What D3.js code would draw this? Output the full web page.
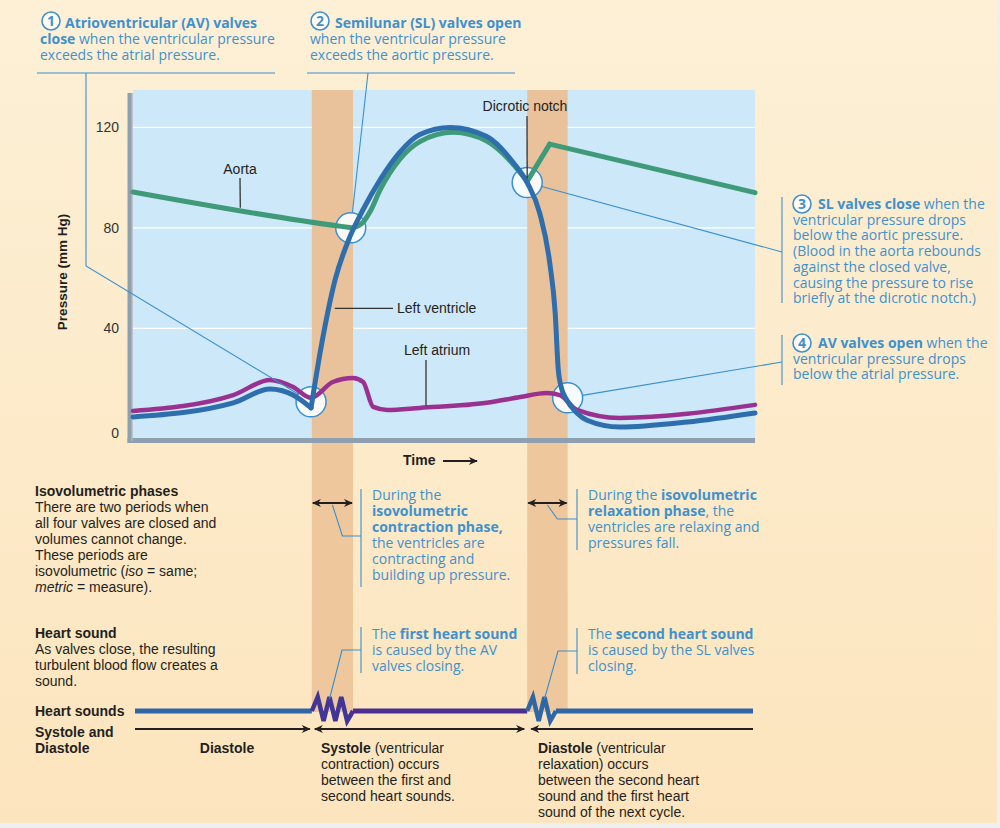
<!DOCTYPE html>
<html><head><meta charset="utf-8">
<script src="https://cdn.jsdelivr.net/npm/d3@7"></script>
<style>
html,body{margin:0;padding:0;background:#eef0f0;}
svg{display:block;}
</style></head><body>
<svg id="c" width="1000" height="828"></svg>
<script>
// ---------------- DATA ----------------
const yTicks = [0, 40, 80, 120];
const gridTicks = [40, 80, 120];
const timeDomain = [0, 800];          // ms of one cardiac cycle (approx.)
const pressureDomain = [0, 120];      // mm Hg

// Left ventricle pressure
const lvTime     = [0, 129, 176, 206, 229, 242, 260, 279, 296, 318, 343, 369, 408, 455, 489, 507, 523, 536, 543, 547, 550, 558, 571, 584, 626, 713, 800];
const lvPressure = [4.8, 10.4, 15.9, 13.5, 8.4, 32.7, 59.4, 76.5, 87.3, 99.2, 110, 117.1, 119.9, 116.3, 106, 98, 86, 66.1, 46.2, 23.5, 17.5, 11.5, 6.4, 3.5, 0.8, 2.8, 6.4];
const lvCorners  = [229];

// Aorta pressure
const aortaTime     = [0, 268, 283, 296, 305, 318, 343, 369, 412, 455, 476, 498, 507, 536, 800];
const aortaPressure = [94.3, 80.6, 80, 82.3, 86.5, 95.2, 107.2, 114.3, 118, 114.5, 109.5, 102, 98.5, 113.3, 94];
const aortaCorners  = [283, 507, 536];

// Left atrium pressure
const laTime     = [0, 129, 176, 206, 229, 257, 283, 296, 309, 327, 369, 455, 498, 532, 549, 571, 626, 800];
const laPressure = [7.2, 13.5, 19.5, 16.7, 12.4, 18.7, 20.3, 18.7, 8.8, 7.6, 8.4, 10.4, 12.7, 14.3, 13.5, 7.6, 4.4, 9.6];

// Isovolumetric phases (ms)
const phaseStart = [230, 507];
const phaseEnd   = [283, 559];

// Valve events (time, pressure)
const valveTime     = [229, 280, 507, 559];
const valvePressure = [10.8, 80, 98, 12.4];

// Heart sounds
const soundStart = [230, 507];
const soundEnd   = [283, 544];
const soundPeaks = [3, 2];

// ---------------- SETUP ----------------
const svg = d3.select("#c");
const x = d3.scaleLinear().domain(timeDomain).range([133, 755]);
const y = d3.scaleLinear().domain(pressureDomain).range([429, 127.3]);
const BLUE = "#3f91cc", INK = "#231f20";
const SANS = "'Liberation Sans', Arial, sans-serif";
const HUM = "'Open Sans', 'Noto Sans', sans-serif";

const defs = svg.append("defs");
const bg = defs.append("linearGradient").attr("id","bg").attr("x1",0).attr("y1",0).attr("x2",0).attr("y2",1);
bg.append("stop").attr("offset","0%").attr("stop-color","#fdf0d6");
bg.append("stop").attr("offset","100%").attr("stop-color","#fce5be");
defs.append("marker").attr("id","ah").attr("viewBox","0 0 10 10").attr("refX",9).attr("refY",5)
  .attr("markerWidth",11).attr("markerHeight",9).attr("markerUnits","userSpaceOnUse").attr("orient","auto-start-reverse")
  .append("path").attr("d","M0,0.5 L10,5 L0,9.5 L3,5 Z").attr("fill",INK);

svg.append("rect").attr("width",997).attr("height",823).attr("fill","url(#bg)");

// plot background
svg.append("rect").attr("x",x(0)).attr("y",90).attr("width",x(800)-x(0)).attr("height",350).attr("fill","#cde8f8");
svg.selectAll(".grid").data(gridTicks).join("line")
  .attr("x1",x(0)).attr("x2",x(800)).attr("y1",d=>y(d)).attr("y2",d=>y(d))
  .attr("stroke","#fff").attr("stroke-width",1.2);

// bands
phaseStart.forEach((s,i)=>{
  svg.append("rect").attr("x",x(s)).attr("y",90).attr("width",x(phaseEnd[i])-x(s)).attr("height",350).attr("fill","#e9c29b");
  svg.append("rect").attr("x",x(s)).attr("y",440).attr("width",x(phaseEnd[i])-x(s)).attr("height",272).attr("fill","#eec79d");
});

// axes
svg.append("line").attr("x1",130).attr("x2",130).attr("y1",93).attr("y2",443).attr("stroke","#8e9faf").attr("stroke-width",5);
svg.append("line").attr("x1",127.5).attr("x2",x(800)).attr("y1",440.5).attr("y2",440.5).attr("stroke","#8e9faf").attr("stroke-width",5);
svg.append("line").attr("x1",132).attr("x2",132).attr("y1",93).attr("y2",441).attr("stroke","#b5c3cf").attr("stroke-width",1);
svg.selectAll(".yt").data(yTicks).join("text")
  .attr("x",119).attr("y",d=>y(d)+ (d===0?9:5)).attr("text-anchor","end")
  .attr("font-family",SANS).attr("font-size",14).attr("fill","#333").text(d=>d);
svg.append("text").attr("transform","translate(67,272) rotate(-90)").attr("text-anchor","middle")
  .attr("font-family",SANS).attr("font-size",13.5).attr("font-weight","bold").attr("fill",INK).text("Pressure (mm Hg)");
svg.append("text").attr("x",403).attr("y",465).attr("font-family",SANS).attr("font-size",14).attr("font-weight","bold").attr("fill",INK).text("Time");
svg.append("line").attr("x1",443).attr("x2",477).attr("y1",461).attr("y2",461).attr("stroke",INK).attr("stroke-width",2.2).attr("marker-end","url(#ah)");

// helpers
function interp(ts, ps, t){
  for(let i=1;i<ts.length;i++){ if(t<=ts[i]){ const f=(t-ts[i-1])/(ts[i]-ts[i-1]); return ps[i-1]+f*(ps[i]-ps[i-1]); } }
  return ps[ps.length-1];
}
function pieces(ts, ps, corners){
  const out=[]; let cur=[];
  ts.forEach((t,i)=>{ cur.push([t,ps[i]]); if(corners.includes(t) && cur.length>1){ out.push(cur); cur=[[t,ps[i]]]; } });
  if(cur.length>1) out.push(cur);
  return out;
}
const line = d3.line().x(d=>x(d[0])).y(d=>y(d[1])).curve(d3.curveMonotoneX);

// valve circles (under the curves)
const R = 15;
valveTime.forEach((t,i)=>{
  svg.append("circle").attr("cx",x(t)).attr("cy",y(valvePressure[i])).attr("r",R)
    .attr("fill","#fbfeff").attr("fill-opacity",0.92).attr("stroke","#3a8fcf").attr("stroke-width",1.5);
});

// curves
function drawCurve(ts, ps, corners, color, w){
  pieces(ts, ps, corners).forEach(p=>{
    svg.append("path").attr("d",line(p)).attr("fill","none").attr("stroke",color).attr("stroke-width",w)
      .attr("stroke-linejoin","round").attr("stroke-linecap","round");
  });
}
drawCurve(aortaTime, aortaPressure, aortaCorners, "#3e9a78", 5);
drawCurve(laTime, laPressure, [], "#9a3190", 4.5);
drawCurve(lvTime, lvPressure, lvCorners, "#2f6ead", 5);

// curve labels
function label(txt, tx, ty, anchor){
  svg.append("text").attr("x",tx).attr("y",ty).attr("text-anchor",anchor||"start")
    .attr("font-family",SANS).attr("font-size",14).attr("fill",INK).text(txt);
}
const lead = (x1,y1,x2,y2)=>svg.append("line").attr("x1",x1).attr("y1",y1).attr("x2",x2).attr("y2",y2).attr("stroke","#333").attr("stroke-width",1.3);
label("Aorta",240,174,"middle"); lead(240,178,x(138),y(interp(aortaTime,aortaPressure,138))-2);
label("Left ventricle",397,313); lead(x(257)+2,y(48),393,y(48));
label("Left atrium",404,355); lead(426,360,426,y(interp(laTime,laPressure,377))-2);
label("Dicrotic notch",525,111,"middle"); lead(527,116,x(507),y(98.5)-3);

// callout lines
const thin = (pts)=>svg.append("path").attr("d",d3.line()(pts)).attr("fill","none").attr("stroke","#3a8fcf").attr("stroke-width",1.1);
function edge(from, ci){
  const cx=x(valveTime[ci]), cy=y(valvePressure[ci]);
  const dx=from[0]-cx, dy=from[1]-cy, L=Math.hypot(dx,dy);
  return [cx+dx/L*R, cy+dy/L*R];
}
thin([[37,73],[275,73]]); thin([[307,73],[515,73]]);
thin([[86,73],[86,266],edge([86,266],0)]);
thin([[368,73],edge([368,73],1)]);
thin([edge([782,252],2),[782,252]]);
thin([edge([782,362],3),[782,362]]);
thin([[782,197],[782,303]]); thin([[782,335],[782,385]]);

// text blocks: first line may be indented (to leave room for a number badge)
function block(x0, y0, lh, lines, color, font, size, indent){
  const t = svg.append("text").attr("font-family",font).attr("font-size",size).attr("fill",color);
  lines.forEach((ln,i)=>{
    const segs = typeof ln==="string" ? [[ln,""]] : ln;
    segs.forEach((s,j)=>{
      const ts = t.append("tspan").text(s[0]);
      if(j===0) ts.attr("x",x0 + (i===0 && indent ? indent : 0)).attr("y",y0+i*lh);
      if(s[1].includes("b")) ts.attr("font-weight","bold");
      if(s[1].includes("i")) ts.attr("font-style","italic");
    });
  });
}
function num(cx, cy, n){
  svg.append("circle").attr("cx",cx).attr("cy",cy).attr("r",9).attr("fill","#fffbf2").attr("stroke",BLUE).attr("stroke-width",1.6);
  svg.append("text").attr("x",cx).attr("y",cy+5).attr("text-anchor","middle").attr("font-family",HUM).attr("font-size",14)
    .attr("font-weight","bold").attr("fill",BLUE).text(n);
}
num(51,21,"1");
block(40,28,16,[[["Atrioventricular (AV) valves","b"]],[["close","b"],[" when the ventricular pressure",""]],"exceeds the atrial pressure."],BLUE,HUM,14,25);
num(320,21,"2");
block(310,28,16,[[["Semilunar (SL) valves open","b"]],"when the ventricular pressure","exceeds the aortic pressure."],BLUE,HUM,14,25);
num(802,204,"3");
block(793,209,15.7,[[["SL valves close","b"],[" when the",""]],"ventricular pressure drops","below the aortic pressure.","(Blood in the aorta rebounds","against the closed valve,","causing the pressure to rise","briefly at the dicrotic notch.)"],BLUE,HUM,14,25);
num(802,343,"4");
block(793,348,15.5,[[["AV valves open","b"],[" when the",""]],"ventricular pressure drops","below the atrial pressure."],BLUE,HUM,14,25);

// lower left descriptions
block(35,496,16,[[["Isovolumetric phases","b"]],"There are two periods when","all four valves are closed and","volumes cannot change.","These periods are",[["isovolumetric (",""],["iso","i"],[" = same;",""]],[["metric","i"],[" = measure).",""]]],INK,SANS,14);
block(35,638,16,[[["Heart sound","b"]],"As valves close, the resulting","turbulent blood flow creates a","sound."],INK,SANS,14);
block(35,716,16,[[["Heart sounds","b"]]],INK,SANS,14);
block(35,737,16,[[["Systole and","b"]],[["Diastole","b"]]],INK,SANS,14);
svg.append("text").attr("x",227).attr("y",753).attr("text-anchor","middle").attr("font-family",SANS).attr("font-size",14).attr("font-weight","bold").attr("fill",INK).text("Diastole");
block(321,753,16,[[["Systole","b"],[" (ventricular",""]],"contraction) occurs","between the first and","second heart sounds."],INK,SANS,14);
block(538,753,16,[[["Diastole","b"],[" (ventricular",""]],"relaxation) occurs","between the second heart","sound and the first heart","sound of the next cycle."],INK,SANS,14);

// phase descriptions
block(372,500,16,["During the",[["isovolumetric","b"]],[["contraction phase,","b"]],"the ventricles are","contracting and","building up pressure."],BLUE,HUM,14);
block(588,500,16,[[["During the ",""],["isovolumetric","b"]],[["relaxation phase",'b'],[", the",""]],"ventricles are relaxing and","pressures fall."],BLUE,HUM,14);
block(372,639,16,[[["The ",""],["first heart sound","b"]],"is caused by the AV","valves closing."],BLUE,HUM,14);
block(588,639,16,[[["The ",""],["second heart sound","b"]],"is caused by the SL valves","closing."],BLUE,HUM,14);

// phase double arrows + connectors
phaseStart.forEach((s,i)=>{
  svg.append("line").attr("x1",x(s)+1).attr("x2",x(phaseEnd[i])-1).attr("y1",503).attr("y2",503)
    .attr("stroke",INK).attr("stroke-width",2).attr("marker-start","url(#ah)").attr("marker-end","url(#ah)");
});
const cx0 = (x(phaseStart[0])+x(phaseEnd[0]))/2, cx1=(x(phaseStart[1])+x(phaseEnd[1]))/2;
thin([[cx0,505],[cx0+10,536],[361,536]]); thin([[361,489],[361,587]]);
thin([[cx1,505],[cx1+10,519],[577,519]]); thin([[577,489],[577,550]]);

// heart sound line
const HS_Y = 711;
svg.append("line").attr("x1",135).attr("x2",x(soundStart[0])).attr("y1",HS_Y).attr("y2",HS_Y).attr("stroke","#2f66a6").attr("stroke-width",5);
svg.append("line").attr("x1",x(soundEnd[0])).attr("x2",x(soundStart[1])).attr("y1",HS_Y).attr("y2",HS_Y).attr("stroke","#4a2e90").attr("stroke-width",5);
svg.append("line").attr("x1",x(soundEnd[1])).attr("x2",753).attr("y1",HS_Y).attr("y2",HS_Y).attr("stroke","#2f66a6").attr("stroke-width",5);
const zig = [];
soundStart.forEach((s,i)=>{
  const x0=x(s), x1=x(soundEnd[i]), n=soundPeaks[i], step=(x1-x0)/(2*n+1);
  const pts=[[x0,HS_Y]];
  for(let k=0;k<2*n;k++) pts.push([x0+step*(k+1), HS_Y + (k%2===0?-14:10)]);
  pts.push([x1,HS_Y]);
  zig.push(pts);
  svg.append("path").attr("d",d3.line()(pts)).attr("fill","none").attr("stroke", i===0?"#433596":"#2f66a6")
    .attr("stroke-width",4.5).attr("stroke-linejoin","miter");
});
// heart sound connectors
thin([[zig[0][3][0],zig[0][3][1]+2],[342,650],[361,650]]); thin([[361,627],[361,673]]);
thin([[zig[1][3][0],zig[1][3][1]+2],[558,651],[577,651]]); thin([[577,628],[577,674]]);

// systole / diastole arrows
const AY = 729;
svg.append("line").attr("x1",135).attr("x2",x(soundStart[0])-2).attr("y1",AY).attr("y2",AY).attr("stroke",INK).attr("stroke-width",2).attr("marker-end","url(#ah)");
svg.append("line").attr("x1",x(soundStart[0])+3).attr("x2",x(soundStart[1])-3).attr("y1",AY).attr("y2",AY).attr("stroke",INK).attr("stroke-width",2).attr("marker-start","url(#ah)").attr("marker-end","url(#ah)");
svg.append("line").attr("x1",x(soundStart[1])+4).attr("x2",753).attr("y1",AY).attr("y2",AY).attr("stroke",INK).attr("stroke-width",2).attr("marker-start","url(#ah)");
</script>
</body></html>
